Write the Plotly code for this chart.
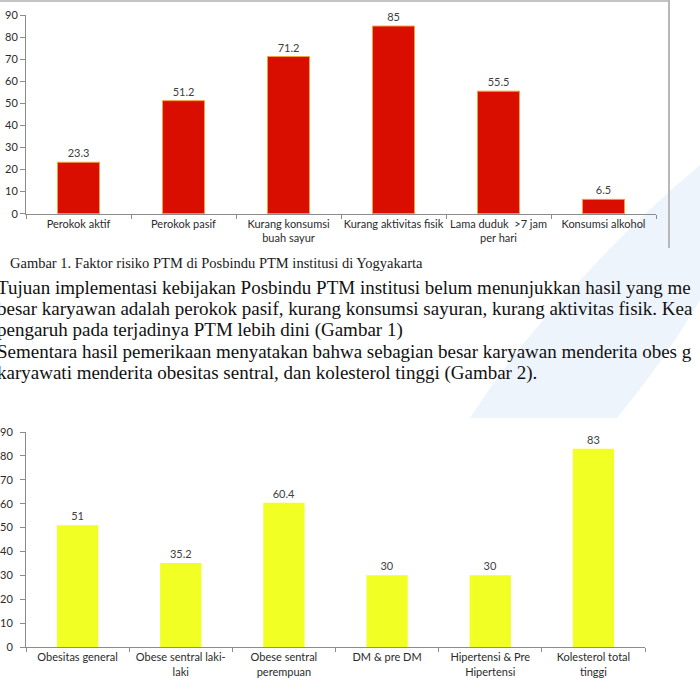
import plotly.graph_objects as go

# ---- data ----
cats1 = ["Perokok aktif", "Perokok pasif", "Kurang konsumsi<br>buah sayur",
         "Kurang aktivitas fisik", "Lama duduk  >7 jam<br>per hari", "Konsumsi alkohol"]
vals1 = [23.3, 51.2, 71.2, 85, 55.5, 6.5]

cats2 = ["Obesitas general", "Obese sentral laki-<br>laki", "Obese sentral<br>perempuan",
         "DM & pre DM", "Hipertensi & Pre<br>Hipertensi", "Kolesterol total<br>tinggi"]
vals2 = [51, 35.2, 60.4, 30, 30, 83]

y_ticks = [0, 10, 20, 30, 40, 50, 60, 70, 80, 90]

caption1 = "Gambar 1. Faktor risiko PTM di Posbindu PTM institusi di Yogyakarta"
para_lines = [
    "Tujuan implementasi kebijakan Posbindu PTM institusi belum menunjukkan hasil yang me",
    "besar karyawan adalah perokok pasif, kurang konsumsi sayuran, kurang aktivitas fisik. Kea",
    "pengaruh pada terjadinya PTM lebih dini (Gambar 1)",
    "Sementara hasil pemerikaan menyatakan bahwa sebagian besar karyawan menderita obes g",
    "karyawati menderita obesitas sentral, dan kolesterol tinggi (Gambar 2).",
]

# ---- styles ----
W, H = 700, 692
RED = "#D90D00"
ORANGE = "#F2A03A"
YELLOW = "#F2FF24"
AXIS = "#8C8C8C"
LABEL = "#2B2B2B"
WATER = "#EEF4FC"
SANS = "Lato"
SERIF = "Liberation Serif"


def px(x):
    return x / W


def py(y):
    return 1 - y / H


fig = go.Figure()

fig.add_trace(go.Bar(
    x=cats1, y=vals1, xaxis="x", yaxis="y", width=0.4,
    marker=dict(color=RED, line=dict(color=ORANGE, width=1)),
    text=[str(v) for v in vals1], textposition="outside",
    textfont=dict(family=SANS, size=11, color="#404040"),
    cliponaxis=False, showlegend=False, hoverinfo="skip",
))
fig.add_trace(go.Bar(
    x=cats2, y=vals2, xaxis="x2", yaxis="y2", width=0.4,
    marker=dict(color=YELLOW, line=dict(width=0)),
    text=[str(v) for v in vals2], textposition="outside",
    textfont=dict(family=SANS, size=11, color="#404040"),
    cliponaxis=False, showlegend=False, hoverinfo="skip",
))

xcommon = dict(type="category", tickson="boundaries", ticks="outside", ticklen=4,
               tickcolor=AXIS, showline=True, linecolor=AXIS, linewidth=1,
               showgrid=False, zeroline=False, tickangle=0, automargin=False,
               tickfont=dict(family=SANS, size=11, color=LABEL), fixedrange=True)
ycommon = dict(range=[0, 90], tickvals=y_ticks, ticks="outside", ticklen=5,
               tickcolor=AXIS, showline=True, linecolor=AXIS, linewidth=1,
               showgrid=False, zeroline=False, automargin=False,
               tickfont=dict(family=SANS, size=11, color=LABEL), fixedrange=True)

shapes = [
    # watermark swoosh (right)
    dict(type="path", xref="paper", yref="paper", layer="below",
         path=(f"M {px(470)},{py(418)} L {px(617)},{py(418)} "
               f"Q {px(665)},{py(360)} {px(700)},{py(300)} L {px(700)},{py(165)} "
               f"Q {px(640)},{py(215)} {px(585)},{py(275)} "
               f"Q {px(520)},{py(340)} {px(470)},{py(418)} Z"),
         fillcolor=WATER, line=dict(width=0)),
    # frame of figure 1 (top & right)
    dict(type="line", xref="paper", yref="paper", x0=0, x1=px(669), y0=py(1), y1=py(1),
         line=dict(color="#C4C4C4", width=2)),
    dict(type="line", xref="paper", yref="paper", x0=px(669), x1=px(669), y0=py(0), y1=py(248),
         line=dict(color="#B8B8B8", width=2)),
]

annotations = [
    dict(text=caption1, x=px(8), y=py(263), xref="paper", yref="paper",
         xanchor="left", yanchor="middle", showarrow=False,
         font=dict(family=SERIF, size=14.5, color="#1A1A1A")),
]
line_y = [287, 308.5, 330, 351.5, 372.5]
for t, yy in zip(para_lines, line_y):
    annotations.append(dict(text=t, x=px(-5), y=py(yy), xref="paper", yref="paper",
                            xanchor="left", yanchor="middle", showarrow=False,
                            font=dict(family=SERIF, size=19, color="#111111")))

fig.update_layout(
    width=W, height=H, margin=dict(l=0, r=0, t=0, b=0),
    paper_bgcolor="white", plot_bgcolor="rgba(0,0,0,0)",
    bargap=0.6, showlegend=False,
    xaxis=dict(domain=[px(26), px(656)], anchor="y", **xcommon),
    yaxis=dict(domain=[py(213.7), py(15)], anchor="x", **ycommon),
    xaxis2=dict(domain=[px(26), px(645)], anchor="y2", **xcommon),
    yaxis2=dict(domain=[py(647), py(432)], anchor="x2", ticklabelstandoff=5, **ycommon),
    shapes=shapes, annotations=annotations,
)

fig.write_html("out.html", config={"displayModeBar": False},
               post_script="document.body.style.margin='0';document.body.style.overflow='hidden';")
